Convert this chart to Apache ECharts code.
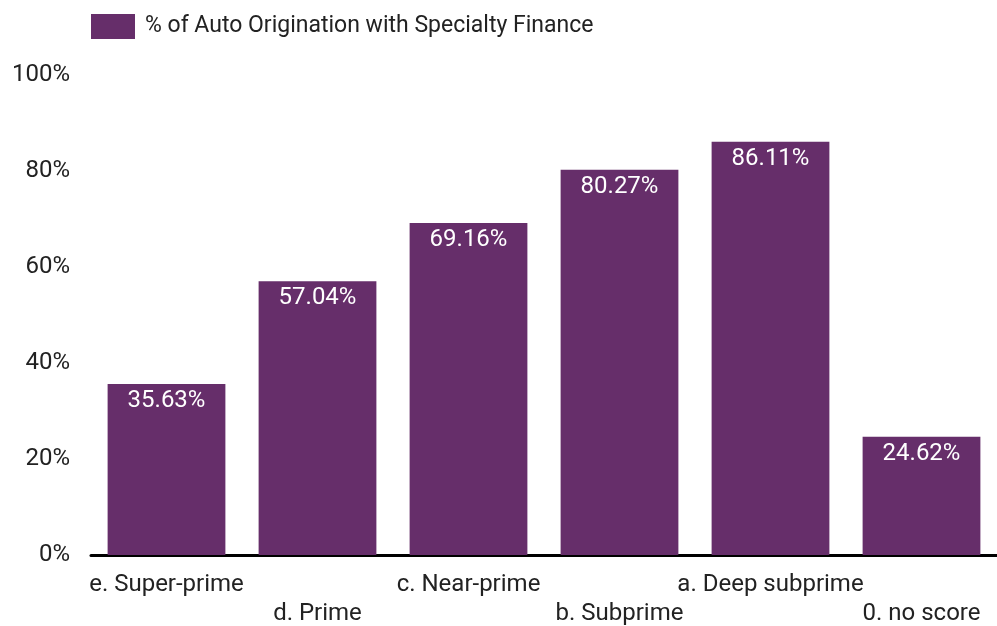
<!DOCTYPE html>
<html>
<head>
<meta charset="utf-8">
<script src="https://cdn.jsdelivr.net/npm/echarts@6/dist/echarts.min.js"></script>
<style>
html,body{margin:0;padding:0;background:#fff;overflow:hidden;}
#chart{width:997px;height:626px;}
</style>
</head>
<body>
<div id="chart"></div>
<script>
const categories = ['e. Super-prime', 'd. Prime', 'c. Near-prime', 'b. Subprime', 'a. Deep subprime', '0. no score'];
const values = [35.63, 57.04, 69.16, 80.27, 86.11, 24.62];
const seriesName = '% of Auto Origination with Specialty Finance';
const yTicks = [0, 20, 40, 60, 80, 100];

const chart = echarts.init(document.getElementById('chart'));
const FONT = 'Roboto';
chart.setOption({
  animation: false,
  textStyle: { fontFamily: FONT },
  legend: {
    left: 91, top: 14, padding: 0,
    icon: 'rect',
    itemWidth: 44, itemHeight: 25, itemGap: 10,
    textStyle: { fontSize: 23, color: '#222', fontFamily: FONT, padding: [3, 0, 0, 5] },
    data: [seriesName]
  },
  grid: { left: 91, right: 0, top: 75, bottom: 71, containLabel: false, outerBoundsMode: 'none' },
  xAxis: {
    type: 'category',
    data: categories,
    axisLine: { lineStyle: { color: '#000', width: 3 } },
    axisTick: { show: false },
    axisLabel: {
      interval: 0, fontSize: 24, color: '#222', margin: 15, lineHeight: 29,
      fontFamily: FONT,
      formatter: function (v, i) { return i % 2 === 1 ? '\n' + v : v; }
    }
  },
  yAxis: {
    type: 'value', min: yTicks[0], max: yTicks[yTicks.length - 1], interval: 20,
    axisLine: { show: false }, axisTick: { show: false },
    splitLine: { show: false },
    axisLabel: { fontSize: 24, color: '#222', margin: 21, fontFamily: FONT, formatter: '{value}%' }
  },
  series: [{
    name: seriesName,
    type: 'bar',
    data: values,
    barCategoryGap: '22%',
    itemStyle: { color: '#662E6A' },
    label: {
      show: true, position: 'insideTop', distance: 5,
      color: '#fff', fontSize: 24, fontFamily: FONT,
      formatter: function (p) { return p.value.toFixed(2) + '%'; }
    }
  }]
});
</script>
</body>
</html>
